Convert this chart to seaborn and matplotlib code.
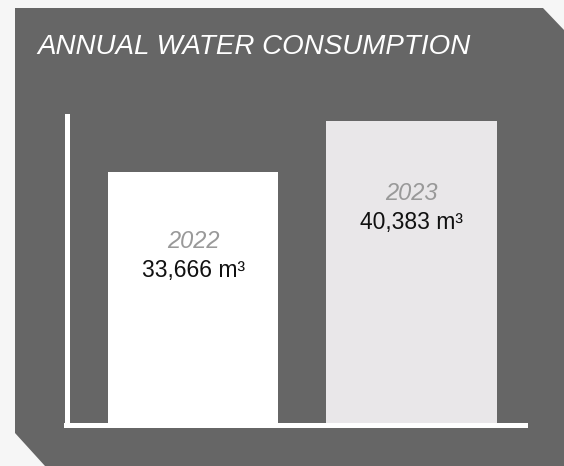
import matplotlib
matplotlib.use("Agg")
import matplotlib.pyplot as plt
from matplotlib.patches import Polygon
import pandas as pd
import seaborn as sns

# data
years = ["2022", "2023"]
consumption = [33666, 40383]
bar_colors = ["#ffffff", "#e9e7e9"]
title = "ANNUAL WATER CONSUMPTION"

df = pd.DataFrame({"year": years, "m3": consumption})

sns.set_theme(style="white")
plt.rcParams["font.family"] = ["Liberation Sans", "DejaVu Sans"]

W, H = 564, 466
fig = plt.figure(figsize=(W / 100, H / 100), dpi=100)
fig.patch.set_facecolor("#f6f6f6")

# dark panel with cut corners (pixel coords -> figure fraction)
pts = [(15, 8), (543, 8), (564, 30), (564, 466), (45, 466), (15, 433)]
panel = Polygon([(x / W, 1 - y / H) for x, y in pts], closed=True,
                transform=fig.transFigure, facecolor="#666666", edgecolor="none", zorder=-10)
fig.patches.append(panel)

fig.text(37 / W, 1 - 47 / H, title, color="white", fontsize=20, style="italic",
         va="center", ha="left")

# axes placed in pixels
left, right, top, bottom = 66.5, 524.5, 116, 425
ax = fig.add_axes([left / W, 1 - bottom / H, (right - left) / W, (bottom - top) / H])
ax.set_facecolor("none")

sns.barplot(data=df, x="year", y="m3", hue="year", palette=bar_colors, legend=False,
            width=0.78, ax=ax, edgecolor="none", linewidth=0, saturation=1)

ax.set_xlim(-0.581, 1.517)
ax.set_ylim(0, 40383 * (bottom - top) / (bottom - 121))
ax.set_xticks([])
ax.set_yticks([])
ax.set_xlabel("")
ax.set_ylabel("")
for s in ["top", "right"]:
    ax.spines[s].set_visible(False)
for s in ["left", "bottom"]:
    ax.spines[s].set_color("white")
    ax.spines[s].set_linewidth(3.6)
    ax.spines[s].set_capstyle("projecting")
    ax.spines[s].set_zorder(5)

# labels inside bars (pixel rows of year / value)
label_y = [(241, 270), (193, 222)]
for i, (yr, val) in enumerate(zip(years, consumption)):
    y1, y2 = label_y[i]
    ax.text(i, (bottom - y1) / (bottom - top), yr, transform=ax.get_xaxis_transform(),
            color="#999999", fontsize=17, style="italic", ha="center", va="center")
    ax.text(i, (bottom - y2) / (bottom - top), f"{val:,} m³", transform=ax.get_xaxis_transform(),
            color="#111111", fontsize=16.5, ha="center", va="center")

fig.savefig("out.png", dpi=100, facecolor=fig.get_facecolor())
